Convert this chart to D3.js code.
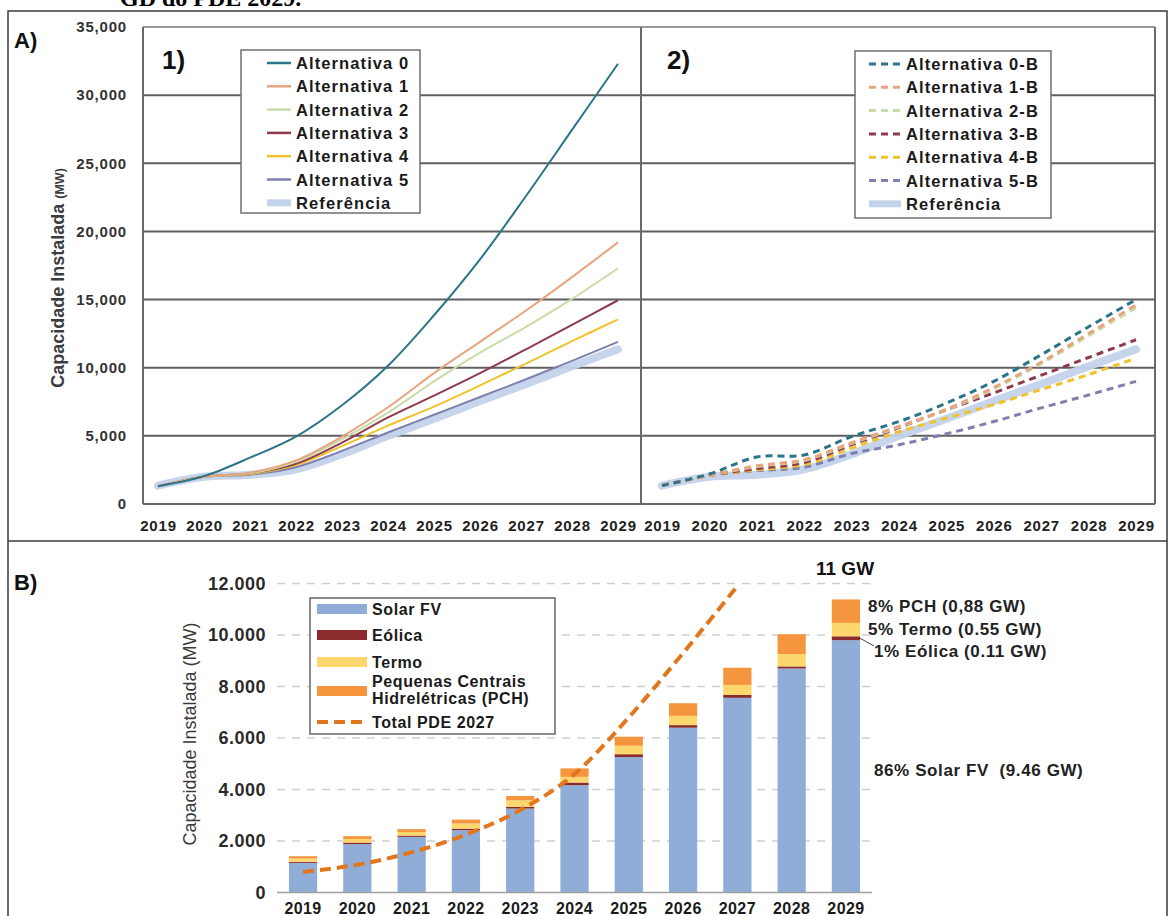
<!DOCTYPE html>
<html>
<head>
<meta charset="utf-8">
<script src="https://cdn.jsdelivr.net/npm/d3@7"></script>
<style>
  body { margin: 0; background: #fff; }
  svg { display: block; font-family: Arial, "Liberation Sans", sans-serif; }
</style>
</head>
<body>
<svg id="chart" width="1170" height="916"></svg>
<script>
// anos (eixo x dos dois painéis)
const years = [2019, 2020, 2021, 2022, 2023, 2024, 2025, 2026, 2027, 2028, 2029];

// A-1) alternativas (MW)
const alt0 = [1300, 2050, 3400, 4950, 7250, 10150, 13850, 17950, 22600, 27450, 32300];
const alt1 = [1300, 2000, 2300, 3200, 4950, 7100, 9600, 11900, 14200, 16650, 19200];
const alt2 = [1300, 2000, 2250, 3100, 4750, 6700, 9000, 11100, 13000, 15050, 17300];
const alt3 = [1300, 2000, 2250, 2950, 4500, 6350, 7950, 9600, 11350, 13150, 14950];
const alt4 = [1300, 2000, 2200, 2850, 4250, 5750, 7150, 8700, 10300, 11950, 13550];
const alt5 = [1300, 2000, 2150, 2700, 3900, 5250, 6550, 7850, 9150, 10500, 11900];
const referencia = [1350, 2000, 2150, 2550, 3650, 5000, 6250, 7550, 8800, 10100, 11350];

// A-2) alternativas B (MW)
const alt0B = [1350, 2200, 3450, 3600, 4950, 6050, 7400, 9000, 10950, 13000, 15000];
const alt1B = [1350, 2100, 2800, 3250, 4500, 5700, 6950, 8550, 10400, 12500, 14600];
const alt2B = [1350, 2100, 2750, 3200, 4450, 5650, 6900, 8450, 10300, 12350, 14400];
const alt3B = [1350, 2100, 2600, 3050, 4350, 5600, 6900, 8150, 9450, 10750, 12050];
const alt4B = [1350, 2100, 2500, 2900, 4100, 5300, 6300, 7300, 8400, 9500, 10700];
const alt5B = [1350, 2100, 2450, 2700, 3700, 4350, 5150, 6050, 7050, 8000, 9000];

// B) capacidade instalada por fonte (MW)
const solarFV = [1150, 1880, 2160, 2420, 3260, 4170, 5260, 6400, 7560, 8700, 9800];
const eolica = [40, 60, 50, 60, 70, 100, 110, 100, 110, 80, 150];
const termo = [130, 140, 140, 200, 250, 220, 330, 360, 390, 480, 520];
const pch = [90, 110, 110, 150, 170, 330, 350, 490, 670, 770, 910];
const pdeYears = [2019, 2020, 2021, 2022, 2023, 2024, 2025, 2026, 2027];
const totalPDE2027 = [800, 1080, 1560, 2250, 3200, 4600, 6800, 9300, 11900];

const yTicksA = [0, 5000, 10000, 15000, 20000, 25000, 30000, 35000];
const yTicksB = [0, 2000, 4000, 6000, 8000, 10000, 12000];

const namesA = ['Alternativa 0', 'Alternativa 1', 'Alternativa 2', 'Alternativa 3', 'Alternativa 4', 'Alternativa 5'];
const namesB = ['Alternativa 0-B', 'Alternativa 1-B', 'Alternativa 2-B', 'Alternativa 3-B', 'Alternativa 4-B', 'Alternativa 5-B'];
const colors = ['#2b7489', '#e6a57f', '#c9dca8', '#8e3b4f', '#f0c22e', '#8080ae'];
const refColor = '#c3d3ea';

const svg = d3.select('#chart');

// legenda cortada do topo
svg.append('text')
  .attr('x', 120).attr('y', 6)
  .style('font-family', '"Liberation Serif", "Times New Roman", serif')
  .style('font-weight', 'bold').style('font-size', '24px')
  .text('GD do PDE 2029.');

// moldura externa
svg.append('rect')
  .attr('x', 8).attr('y', 11).attr('width', 1159).attr('height', 930)
  .attr('fill', 'none').attr('stroke', '#3a3a3a').attr('stroke-width', 1.5);
svg.append('line')
  .attr('x1', 8).attr('x2', 1167).attr('y1', 541).attr('y2', 541)
  .attr('stroke', '#3a3a3a').attr('stroke-width', 1.5);

// ---------------- Painel A ----------------
const yA = d3.scaleLinear().domain([0, 35000]).range([504, 27]);
const plots = [
  { x: d3.scaleLinear().domain([2019, 2029]).range([158, 618]), left: 143, right: 641,
    series: [alt0, alt1, alt2, alt3, alt4, alt5], dash: null, tag: '1)', tagX: 162,
    names: namesA, legend: { x: 241, y: 50, w: 179, h: 163, sx: 267, tx: 296 } },
  { x: d3.scaleLinear().domain([2019, 2029]).range([662, 1136]), left: 641, right: 1155,
    series: [alt0B, alt1B, alt2B, alt3B, alt4B, alt5B], dash: '7,5', tag: '2)', tagX: 667,
    names: namesB, legend: { x: 855, y: 51, w: 196, h: 167, sx: 869, tx: 906 } }
];

const gA = svg.append('g');

// grade horizontal
gA.selectAll('line.grid')
  .data(yTicksA.filter(d => d > 0 && d < 35000))
  .enter().append('line')
  .attr('x1', 143).attr('x2', 1155)
  .attr('y1', d => yA(d)).attr('y2', d => yA(d))
  .attr('stroke', '#5f5f5f').attr('stroke-width', 2);

// bordas dos gráficos
gA.append('line').attr('x1', 143).attr('x2', 1155).attr('y1', yA(35000)).attr('y2', yA(35000))
  .attr('stroke', '#9a9a9a').attr('stroke-width', 2);
gA.append('line').attr('x1', 143).attr('x2', 1155).attr('y1', yA(0)).attr('y2', yA(0))
  .attr('stroke', '#6a6a6a').attr('stroke-width', 2);
[143, 641, 1155].forEach(x => {
  gA.append('line').attr('x1', x).attr('x2', x).attr('y1', yA(35000)).attr('y2', yA(0))
    .attr('stroke', '#6a6a6a').attr('stroke-width', 2);
});

// eixo y
const axY = gA.append('g')
  .attr('transform', 'translate(143,0)')
  .call(d3.axisLeft(yA).tickValues(yTicksA).tickFormat(d3.format(',')).tickSize(0).tickPadding(16));
axY.select('.domain').remove();
axY.selectAll('text')
  .style('font-size', '15px').style('font-weight', 'bold').style('fill', '#333')
  .style('letter-spacing', '0.8px')
  .attr('font-family', null);

gA.append('text')
  .attr('transform', 'translate(64,278) rotate(-90)')
  .attr('text-anchor', 'middle')
  .style('font-weight', 'bold').style('font-size', '18px').style('fill', '#3c3c3c')
  .text('Capacidade Instalada ')
  .append('tspan').style('font-size', '12.5px').text('(MW)');

gA.append('text').attr('x', 14).attr('y', 48)
  .style('font-weight', 'bold').style('font-size', '22px').style('fill', '#111').text('A)');

const smooth = d3.curveCatmullRom.alpha(0.5);

plots.forEach(p => {
  const line = d3.line()
    .x((d, i) => p.x(years[i]))
    .y(d => yA(d))
    .curve(smooth);

  // eixo x
  const axX = gA.append('g')
    .attr('transform', `translate(0,${yA(0)})`)
    .call(d3.axisBottom(p.x).tickValues(years).tickFormat(d3.format('d')).tickSize(0).tickPadding(16));
  axX.select('.domain').remove();
  axX.selectAll('text')
    .style('font-size', '15px').style('font-weight', 'bold').style('fill', '#222')
    .style('letter-spacing', '0.8px')
    .attr('font-family', null);

  // referência (faixa larga)
  gA.append('path')
    .attr('d', line(referencia))
    .attr('fill', 'none').attr('stroke', refColor)
    .attr('stroke-width', 8).attr('stroke-linecap', 'round').attr('opacity', 0.95);

  // alternativas
  gA.selectAll(null)
    .data(p.series.map((s, i) => ({ s, i })).reverse())
    .enter().append('path')
    .attr('d', d => line(d.s))
    .attr('fill', 'none')
    .attr('stroke', d => colors[d.i])
    .attr('stroke-width', p.dash ? 3 : 2)
    .attr('stroke-dasharray', p.dash);

  gA.append('text').attr('x', p.tagX).attr('y', 69)
    .style('font-weight', 'bold').style('font-size', '26px').style('fill', '#111').text(p.tag);

  // legenda
  const L = p.legend;
  const lg = gA.append('g');
  lg.append('rect').attr('x', L.x).attr('y', L.y).attr('width', L.w).attr('height', L.h)
    .attr('fill', '#fff').attr('stroke', '#6f6f6f').attr('stroke-width', 1.5);
  const items = p.names.map((n, i) => ({ n, c: colors[i], w: p.dash ? 3 : 2.5, dash: p.dash }))
    .concat([{ n: 'Referência', c: refColor, w: 7, dash: null }]);
  const rowY = i => L.y + 13 + i * 23.3;
  lg.selectAll('line').data(items).enter().append('line')
    .attr('x1', L.sx).attr('x2', L.tx - 5)
    .attr('y1', (d, i) => rowY(i)).attr('y2', (d, i) => rowY(i))
    .attr('stroke', d => d.c).attr('stroke-width', d => d.w)
    .attr('stroke-dasharray', d => d.dash);
  lg.selectAll('text').data(items).enter().append('text')
    .attr('x', L.tx).attr('y', (d, i) => rowY(i) + 6)
    .style('font-weight', 'bold').style('font-size', '16.5px').style('fill', '#1a1a1a')
    .style('letter-spacing', '1.1px')
    .text(d => d.n);
});

// ---------------- Painel B ----------------
const gB = svg.append('g');
const xB = d3.scaleBand().domain(years).range([277, 872]).paddingInner(0.48).paddingOuter(0.22);
const yB = d3.scaleLinear().domain([0, 12000]).range([892.5, 583.5]);

gB.append('text').attr('x', 14).attr('y', 590)
  .style('font-weight', 'bold').style('font-size', '22px').style('fill', '#111').text('B)');

gB.selectAll('line.grid')
  .data(yTicksB.filter(d => d > 0))
  .enter().append('line')
  .attr('x1', 277).attr('x2', 872)
  .attr('y1', d => yB(d)).attr('y2', d => yB(d))
  .attr('stroke', '#cfcfcf').attr('stroke-width', 1.5).attr('stroke-dasharray', '8,7');

const axYB = gB.append('g')
  .attr('transform', 'translate(277,0)')
  .call(d3.axisLeft(yB).tickValues(yTicksB).tickFormat(d => d3.format(',')(d).replace(',', '.')).tickSize(0).tickPadding(11));
axYB.select('.domain').remove();
axYB.selectAll('text')
  .style('font-size', '18px').style('font-weight', 'bold').style('fill', '#2a2a2a')
  .style('letter-spacing', '0.5px')
  .attr('font-family', null);

gB.append('text')
  .attr('transform', 'translate(196,734) rotate(-90)')
  .attr('text-anchor', 'middle')
  .style('font-size', '18px').style('fill', '#3a3a3a')
  .text('Capacidade Instalada (MW)');

const rows = years.map((y, i) => ({ year: y, solar: solarFV[i], eolica: eolica[i], termo: termo[i], pch: pch[i] }));
const keys = ['solar', 'eolica', 'termo', 'pch'];
const barColors = { solar: '#8fadd6', eolica: '#8b2b2b', termo: '#fdd66d', pch: '#f5963f' };
const stacked = d3.stack().keys(keys)(rows);

gB.selectAll('g.layer')
  .data(stacked).enter().append('g')
  .attr('fill', d => barColors[d.key])
  .selectAll('rect')
  .data(d => d).enter().append('rect')
  .attr('x', d => xB(d.data.year))
  .attr('width', xB.bandwidth())
  .attr('y', d => yB(d[1]))
  .attr('height', d => yB(d[0]) - yB(d[1]));

// linha base
gB.append('line').attr('x1', 277).attr('x2', 872).attr('y1', yB(0)).attr('y2', yB(0))
  .attr('stroke', '#a0a0a0').attr('stroke-width', 1.5);

const axXB = gB.append('g')
  .attr('transform', `translate(0,${yB(0)})`)
  .call(d3.axisBottom(xB).tickFormat(d3.format('d')).tickSize(0).tickPadding(10));
axXB.select('.domain').remove();
axXB.selectAll('text')
  .style('font-size', '16px').style('font-weight', 'bold').style('fill', '#1a1a1a')
  .style('letter-spacing', '0.4px')
  .attr('font-family', null);

// Total PDE 2027
const pdeLine = d3.line()
  .x((d, i) => xB(pdeYears[i]) + xB.bandwidth() / 2)
  .y(d => yB(d))
  .curve(d3.curveMonotoneX);
gB.append('path')
  .attr('d', pdeLine(totalPDE2027))
  .attr('fill', 'none').attr('stroke', '#e2761d')
  .attr('stroke-width', 4).attr('stroke-dasharray', '11,6');

// anotações
const last = years.length - 1;
const xEnd = xB(years[last]) + xB.bandwidth();
gB.append('text').attr('x', 816).attr('y', 575)
  .style('font-weight', 'bold').style('font-size', '19px').style('fill', '#111').text('11 GW');
const ann = [
  { t: '8% PCH (0,88 GW)', x: 868, y: 612 },
  { t: '5% Termo (0.55 GW)', x: 868, y: 635 },
  { t: '1% Eólica (0.11 GW)', x: 874, y: 657 },
  { t: '86% Solar FV  (9.46 GW)', x: 874, y: 776 }
];
gB.selectAll('text.ann').data(ann).enter().append('text')
  .attr('x', d => d.x).attr('y', d => d.y)
  .style('font-weight', 'bold').style('font-size', '17px').style('fill', '#222')
  .style('letter-spacing', '0.6px').style('white-space', 'pre')
  .text(d => d.t);
gB.append('line')
  .attr('x1', xEnd).attr('y1', yB(solarFV[last] + eolica[last] / 2))
  .attr('x2', 874).attr('y2', 646)
  .attr('stroke', '#444').attr('stroke-width', 1);

// legenda B
const lgB = gB.append('g');
lgB.append('rect').attr('x', 310).attr('y', 598).attr('width', 245).attr('height', 136)
  .attr('fill', '#fff').attr('stroke', '#666').attr('stroke-width', 1.5);
const legItems = [
  { key: 'solar', lines: ['Solar FV'], y: 609, ty: 615 },
  { key: 'eolica', lines: ['Eólica'], y: 635, ty: 641 },
  { key: 'termo', lines: ['Termo'], y: 662, ty: 668 },
  { key: 'pch', lines: ['Pequenas Centrais', 'Hidrelétricas (PCH)'], y: 691, ty: 687 }
];
legItems.forEach(it => {
  lgB.append('rect').attr('x', 317).attr('y', it.y - 5).attr('width', 50).attr('height', 10)
    .attr('fill', barColors[it.key]);
  it.lines.forEach((l, i) => {
    lgB.append('text').attr('x', 372).attr('y', it.ty + i * 17)
      .style('font-weight', 'bold').style('font-size', '16px').style('fill', '#1a1a1a')
      .style('letter-spacing', '0.6px')
      .text(l);
  });
});
lgB.append('line').attr('x1', 317).attr('x2', 367).attr('y1', 722).attr('y2', 722)
  .attr('stroke', '#e2761d').attr('stroke-width', 4).attr('stroke-dasharray', '11,6');
lgB.append('text').attr('x', 372).attr('y', 728)
  .style('font-weight', 'bold').style('font-size', '16px').style('fill', '#1a1a1a')
  .style('letter-spacing', '0.6px')
  .text('Total PDE 2027');
</script>
</body>
</html>
